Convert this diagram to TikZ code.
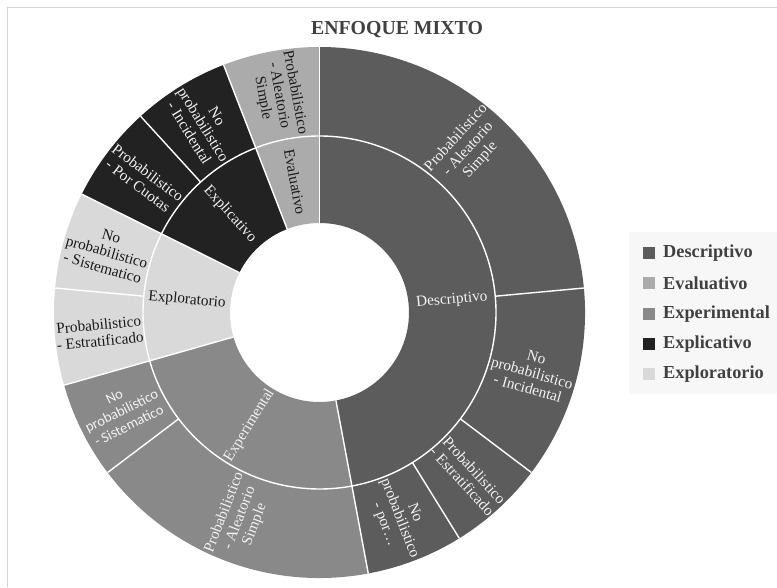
\documentclass[tikz,border=0pt]{standalone}
\usepackage{fontspec}
\setmainfont{Liberation Serif}
\newfontfamily\carl{Carlito}
\definecolor{cDesc}{HTML}{5C5C5C}
\definecolor{cEval}{HTML}{ABABAB}
\definecolor{cExper}{HTML}{898989}
\definecolor{cExpli}{HTML}{222222}
\definecolor{cExplor}{HTML}{D9D9D9}
\definecolor{labW}{HTML}{F2F2F2}
\definecolor{labD}{HTML}{1A1A1A}
\definecolor{legC}{HTML}{404040}
\definecolor{frameC}{HTML}{D4D4D4}
\definecolor{legBg}{HTML}{F7F7F7}
\newcommand{\sunwedge}[5]{\fill[#5] (#1:#3) arc[start angle=#1, end angle=#2, radius=#3] -- (#2:#4) arc[start angle=#2, end angle=#1, radius=#4] -- cycle;}
\tikzset{
  sepline/.style={draw=white, line width=1.4pt},
  lbl/.style={align=center, font=\fontsize{15.3}{16.3}\selectfont, inner sep=0pt},
  lblw/.style={lbl, text=labW},
  lbld/.style={lbl, text=labD},
  legtxt/.style={font=\fontsize{18.3}{20}\selectfont\bfseries, text=legC, anchor=west, inner sep=0pt},
  legsq/.style={minimum size=12pt, inner sep=0pt, draw=none},
  titletxt/.style={font=\fontsize{19.8}{22}\selectfont\bfseries, text=legC, inner sep=0pt}
}
\begin{document}
\begin{tikzpicture}[x=1pt,y=1pt]
\useasboundingbox (0,0) rectangle (777,587);
\fill[white] (0,0) rectangle (777,587);
\draw[frameC, line width=1.2pt] (7.5,0) -- (7.5,579.5) -- (777,579.5);
\node[titletxt] (title) at (397,557) {ENFOQUE MIXTO};
\begin{scope}[shift={(319.5,274.5)}]
  % inner ring
  \sunwedge{90}{-79.412}{89.5pt}{176.5pt}{cDesc}
  \sunwedge{-79.412}{-164.118}{89.5pt}{176.5pt}{cExper}
  \sunwedge{-164.118}{-206.471}{89.5pt}{176.5pt}{cExplor}
  \sunwedge{-206.471}{-248.824}{89.5pt}{176.5pt}{cExpli}
  \sunwedge{-248.824}{-270}{89.5pt}{176.5pt}{cEval}
  % outer ring
  \sunwedge{90}{-79.412}{176.5pt}{265.5pt}{cDesc}
  \sunwedge{-79.412}{-164.118}{176.5pt}{265.5pt}{cExper}
  \sunwedge{-164.118}{-206.471}{176.5pt}{265.5pt}{cExplor}
  \sunwedge{-206.471}{-248.824}{176.5pt}{265.5pt}{cExpli}
  \sunwedge{-248.824}{-270}{176.5pt}{265.5pt}{cEval}
  % separators
  \draw[sepline] (0,0) circle[radius=176.5pt];
  \foreach \a in {90,-79.412,-164.118,-206.471,-248.824}
    \draw[sepline] (\a:89.5pt) -- (\a:265.5pt);
  \foreach \a in {5.294,-37.059,-58.235,-142.941,-185.294,-227.647}
    \draw[sepline] (\a:176.5pt) -- (\a:265.5pt);
  % inner labels
  \node[lblw, rotate=5.294] (iDesc) at (5.294:133pt) {Descriptivo};
  \node[lblw, rotate=58.235] (iExper) at (-121.765:133pt) {Experimental};
  \node[lbld, rotate=-5.294] (iExplor) at (-185.294:133pt) {Exploratorio};
  \node[lblw, rotate=-47.647] (iExpli) at (-227.647:133pt) {Explicativo};
  \node[lbld, rotate=-79.412] (iEval) at (-259.412:133pt) {Evaluativo};
  % outer labels
  \node[lblw, rotate=47.647] (oDpas) at (47.647:221pt) {Probabilistico\\- Aleatorio\\Simple};
  \node[lblw, rotate=-15.882] (oDnpi) at (-15.882:221pt) {No\\probabilistico\\- Incidental};
  \node[lblw, rotate=-47.647] (oDpe) at (-47.647:221pt) {Probabilistico\\- Estratificado};
  \node[lblw, rotate=-68.824] (oDnpp) at (-68.824:221pt) {No\\probabilistico\\- por…};
  \node[lblw, rotate=68.824] (oXpas) at (-111.176:221pt) {Probabilistico\\- Aleatorio\\Simple};
  \node[lblw, rotate=26.471, font=\carl\fontsize{14.5}{16.3}\selectfont] (oXnps) at (-153.529:221pt) {No\\probabilístico\\- Sistematico};
  \node[lbld, rotate=5.294] (oEpe) at (-174.706:221pt) {Probabilistico\\- Estratificado};
  \node[lbld, rotate=-15.882] (oEnps) at (-195.882:221pt) {No\\probabilistico\\- Sistematico};
  \node[lblw, rotate=-37.059] (oLppc) at (-217.059:221pt) {Probabilistico\\- Por Cuotas};
  \node[lblw, rotate=-58.235] (oLnpi) at (-238.235:221pt) {No\\probabilistico\\- Incidental};
  \node[lbld, rotate=-79.412] (oVpas) at (-259.412:221pt) {Probabilistico\\- Aleatorio\\Simple};
\end{scope}
% legend
\fill[legBg] (629,193) rectangle (777,355);
\node[legsq, fill=cDesc] (sq1) at (649,334) {};
\node[legtxt] (lg1) at (663,334) {Descriptivo};
\node[legsq, fill=cEval] (sq2) at (649,304) {};
\node[legtxt] (lg2) at (663,304) {Evaluativo};
\node[legsq, fill=cExper] (sq3) at (649,273) {};
\node[legtxt] (lg3) at (663,273) {Experimental};
\node[legsq, fill=cExpli] (sq4) at (649,243) {};
\node[legtxt] (lg4) at (663,243) {Explicativo};
\node[legsq, fill=cExplor] (sq5) at (649,213) {};
\node[legtxt] (lg5) at (663,213) {Exploratorio};
\end{tikzpicture}
\end{document}
